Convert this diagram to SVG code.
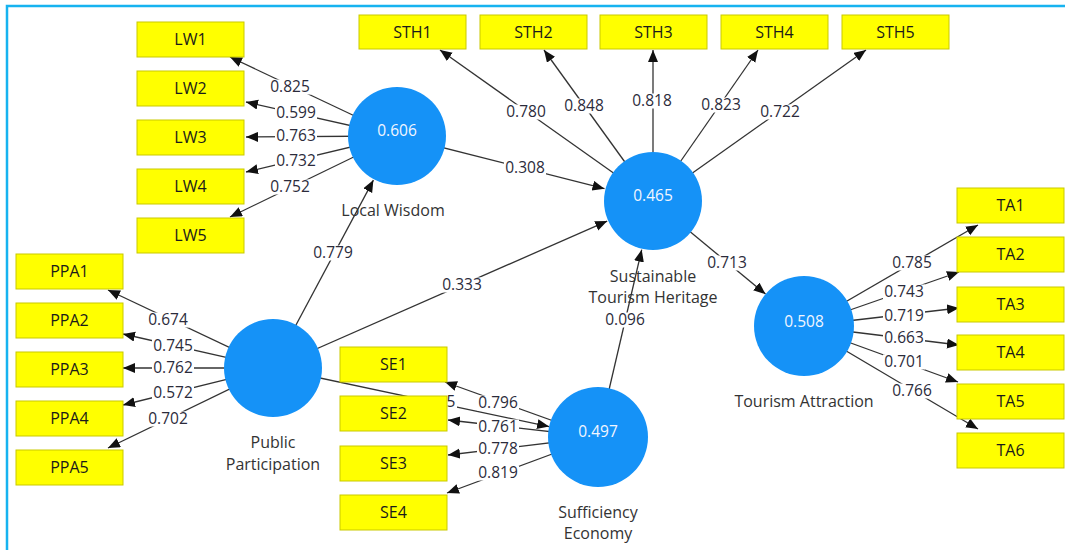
<svg xmlns="http://www.w3.org/2000/svg" width="1065" height="550" viewBox="0 0 1065 550">
<defs>
<style>
.box{fill:#ffff00;stroke:#c9c900;stroke-width:1}
.bt{font-family:"Open Sans","Liberation Sans",sans-serif;font-size:16px;text-anchor:middle;fill:#1a1a1a}
.c{fill:#1592f7}
.cv{font-family:"Open Sans","Liberation Sans",sans-serif;font-size:15.5px;text-anchor:middle;fill:#f2f6ff}
.nl{font-family:"Open Sans","Liberation Sans",sans-serif;font-size:16px;text-anchor:middle;fill:#333}
.ln{stroke:#333;stroke-width:1.3;fill:none;marker-end:url(#ah)}
.bg{fill:#fff}
.lb{font-family:"Open Sans","Liberation Sans",sans-serif;font-size:15.5px;text-anchor:middle;fill:#2b2b3b}
</style>
<marker id="ah" markerUnits="userSpaceOnUse" markerWidth="13" markerHeight="11" refX="12" refY="5" orient="auto">
<path d="M0,0 L12,5 L0,10 z" fill="#111"/>
</marker>
</defs>
<rect width="1065" height="550" fill="#fff"/>
<path d="M7,550 V6 H1065" fill="none" stroke="#17b3f0" stroke-width="2.5"/>

<g id="connectors">
<line class="ln" x1="397" y1="136" x2="230" y2="57"/>
<line class="ln" x1="397" y1="136" x2="246" y2="102"/>
<line class="ln" x1="397" y1="136" x2="246" y2="137"/>
<line class="ln" x1="397" y1="136" x2="246" y2="172"/>
<line class="ln" x1="397" y1="136" x2="230" y2="217"/>
<line class="ln" x1="273" y1="368" x2="108" y2="290"/>
<line class="ln" x1="273" y1="368" x2="123" y2="334"/>
<line class="ln" x1="273" y1="368" x2="123" y2="368"/>
<line class="ln" x1="273" y1="368" x2="123" y2="405"/>
<line class="ln" x1="273" y1="368" x2="108" y2="448"/>
<line class="ln" x1="598" y1="437" x2="445" y2="382"/>
<line class="ln" x1="598" y1="437" x2="448" y2="420"/>
<line class="ln" x1="598" y1="437" x2="448" y2="455"/>
<line class="ln" x1="598" y1="437" x2="447" y2="493"/>
<line class="ln" x1="804" y1="326" x2="978" y2="225"/>
<line class="ln" x1="804" y1="326" x2="959" y2="272"/>
<line class="ln" x1="804" y1="326" x2="959" y2="308"/>
<line class="ln" x1="804" y1="326" x2="959" y2="345"/>
<line class="ln" x1="804" y1="326" x2="958" y2="382"/>
<line class="ln" x1="804" y1="326" x2="978" y2="429"/>
<line class="ln" x1="653" y1="201" x2="440" y2="50"/>
<line class="ln" x1="653" y1="201" x2="544" y2="50"/>
<line class="ln" x1="653" y1="201" x2="653" y2="50"/>
<line class="ln" x1="653" y1="201" x2="758" y2="50"/>
<line class="ln" x1="653" y1="201" x2="866" y2="50"/>
<line class="ln" x1="273" y1="368" x2="373.4" y2="180.1"/>
<line class="ln" x1="273" y1="368" x2="607.2" y2="221.1"/>
<line class="ln" x1="397" y1="136" x2="604.5" y2="188.7"/>
<line class="ln" x1="598" y1="437" x2="641.7" y2="249.7"/>
<line class="ln" x1="653" y1="201" x2="765.5" y2="294.1"/>
<line class="ln" x1="273" y1="368" x2="549.1" y2="426.6"/>
<g>
<rect class="bg" x="269" y="79.5" width="42" height="15"/>
<rect class="bg" x="275" y="105.5" width="42" height="15"/>
<rect class="bg" x="275" y="128.5" width="42" height="15"/>
<rect class="bg" x="275" y="153.5" width="42" height="15"/>
<rect class="bg" x="269" y="179.5" width="42" height="15"/>
<rect class="bg" x="147" y="312.5" width="42" height="15"/>
<rect class="bg" x="152" y="338.5" width="42" height="15"/>
<rect class="bg" x="152" y="360.5" width="42" height="15"/>
<rect class="bg" x="152" y="385.5" width="42" height="15"/>
<rect class="bg" x="147" y="411.5" width="42" height="15"/>
<rect class="bg" x="477" y="395.5" width="42" height="15"/>
<rect class="bg" x="477" y="419.5" width="42" height="15"/>
<rect class="bg" x="477" y="441.5" width="42" height="15"/>
<rect class="bg" x="477" y="465.5" width="42" height="15"/>
<rect class="bg" x="891" y="255.5" width="42" height="15"/>
<rect class="bg" x="883" y="284.5" width="42" height="15"/>
<rect class="bg" x="883" y="308.5" width="42" height="15"/>
<rect class="bg" x="883" y="330.5" width="42" height="15"/>
<rect class="bg" x="883" y="354.5" width="42" height="15"/>
<rect class="bg" x="891" y="383.5" width="42" height="15"/>
<rect class="bg" x="505" y="104.5" width="42" height="15"/>
<rect class="bg" x="563" y="98.5" width="42" height="15"/>
<rect class="bg" x="631" y="93.5" width="42" height="15"/>
<rect class="bg" x="700" y="97.5" width="42" height="15"/>
<rect class="bg" x="759" y="104.5" width="42" height="15"/>
<rect class="bg" x="312" y="245.5" width="42" height="15"/>
<rect class="bg" x="441" y="277.5" width="42" height="15"/>
<rect class="bg" x="504" y="160.5" width="42" height="15"/>
<rect class="bg" x="604" y="312.5" width="42" height="15"/>
<rect class="bg" x="706" y="255.5" width="42" height="15"/>
<rect class="bg" x="446" y="394.5" width="11" height="15"/>
</g>
<text class="lb" x="290" y="92">0.825</text>
<text class="lb" x="296" y="118">0.599</text>
<text class="lb" x="296" y="141">0.763</text>
<text class="lb" x="296" y="166">0.732</text>
<text class="lb" x="290" y="192">0.752</text>
<text class="lb" x="168" y="325">0.674</text>
<text class="lb" x="173" y="351">0.745</text>
<text class="lb" x="173" y="373">0.762</text>
<text class="lb" x="173" y="398">0.572</text>
<text class="lb" x="168" y="424">0.702</text>
<text class="lb" x="498" y="408">0.796</text>
<text class="lb" x="498" y="432">0.761</text>
<text class="lb" x="498" y="454">0.778</text>
<text class="lb" x="498" y="478">0.819</text>
<text class="lb" x="912" y="268">0.785</text>
<text class="lb" x="904" y="297">0.743</text>
<text class="lb" x="904" y="321">0.719</text>
<text class="lb" x="904" y="343">0.663</text>
<text class="lb" x="904" y="367">0.701</text>
<text class="lb" x="912" y="396">0.766</text>
<text class="lb" x="526" y="117">0.780</text>
<text class="lb" x="584" y="111">0.848</text>
<text class="lb" x="652" y="106">0.818</text>
<text class="lb" x="721" y="110">0.823</text>
<text class="lb" x="780" y="117">0.722</text>
<text class="lb" x="333" y="258">0.779</text>
<text class="lb" x="462" y="290">0.333</text>
<text class="lb" x="525" y="173">0.308</text>
<text class="lb" x="625" y="325">0.096</text>
<text class="lb" x="727" y="268">0.713</text>
<text class="lb" x="451" y="407">5</text>
</g>

<g id="LW">
<circle class="c" cx="397" cy="136" r="49"/>
<text class="cv" x="397" y="136">0.606</text>
<text class="nl" x="393" y="216">Local Wisdom</text>
</g>
<g id="STH">
<circle class="c" cx="653" cy="201" r="49"/>
<text class="cv" x="653" y="201">0.465</text>
<text class="nl" x="653" y="282">Sustainable</text>
<text class="nl" x="653" y="303">Tourism Heritage</text>
</g>
<g id="PP">
<circle class="c" cx="273" cy="368" r="49"/>
<text class="nl" x="273" y="448">Public</text>
<text class="nl" x="273" y="470">Participation</text>
</g>
<g id="SE">
<circle class="c" cx="598" cy="437" r="50"/>
<text class="cv" x="598" y="437">0.497</text>
<text class="nl" x="598" y="518">Sufficiency</text>
<text class="nl" x="598" y="539">Economy</text>
</g>
<g id="TA">
<circle class="c" cx="804" cy="326" r="50"/>
<text class="cv" x="804" y="327">0.508</text>
<text class="nl" x="804" y="407">Tourism Attraction</text>
</g>

<g id="LW1"><rect class="box" x="137" y="22" width="107" height="35"/><text class="bt" x="190.5" y="45">LW1</text></g>
<g id="LW2"><rect class="box" x="137" y="71" width="107" height="35"/><text class="bt" x="190.5" y="94">LW2</text></g>
<g id="LW3"><rect class="box" x="137" y="120" width="107" height="35"/><text class="bt" x="190.5" y="143">LW3</text></g>
<g id="LW4"><rect class="box" x="137" y="169" width="107" height="35"/><text class="bt" x="190.5" y="192">LW4</text></g>
<g id="LW5"><rect class="box" x="137" y="218" width="107" height="35"/><text class="bt" x="190.5" y="241">LW5</text></g>

<g id="STH1"><rect class="box" x="359" y="15" width="107" height="34"/><text class="bt" x="412.5" y="37.5">STH1</text></g>
<g id="STH2"><rect class="box" x="480" y="15" width="107" height="34"/><text class="bt" x="533.5" y="37.5">STH2</text></g>
<g id="STH3"><rect class="box" x="600" y="15" width="107" height="34"/><text class="bt" x="653.5" y="37.5">STH3</text></g>
<g id="STH4"><rect class="box" x="721" y="15" width="107" height="34"/><text class="bt" x="774.5" y="37.5">STH4</text></g>
<g id="STH5"><rect class="box" x="842" y="15" width="107" height="34"/><text class="bt" x="895.5" y="37.5">STH5</text></g>

<g id="PPA1"><rect class="box" x="16" y="254" width="107" height="35"/><text class="bt" x="69.5" y="277">PPA1</text></g>
<g id="PPA2"><rect class="box" x="16" y="303" width="107" height="35"/><text class="bt" x="69.5" y="326">PPA2</text></g>
<g id="PPA3"><rect class="box" x="16" y="352" width="107" height="35"/><text class="bt" x="69.5" y="375">PPA3</text></g>
<g id="PPA4"><rect class="box" x="16" y="401" width="107" height="35"/><text class="bt" x="69.5" y="424">PPA4</text></g>
<g id="PPA5"><rect class="box" x="16" y="450" width="107" height="35"/><text class="bt" x="69.5" y="473">PPA5</text></g>

<g id="SE1"><rect class="box" x="340" y="347" width="107" height="35"/><text class="bt" x="393.5" y="370">SE1</text></g>
<g id="SE2"><rect class="box" x="340" y="396" width="107" height="35"/><text class="bt" x="393.5" y="419">SE2</text></g>
<g id="SE3"><rect class="box" x="340" y="446" width="107" height="35"/><text class="bt" x="393.5" y="469">SE3</text></g>
<g id="SE4"><rect class="box" x="340" y="495" width="107" height="35"/><text class="bt" x="393.5" y="518">SE4</text></g>

<g id="TA1"><rect class="box" x="957" y="188" width="107" height="35"/><text class="bt" x="1010.5" y="211">TA1</text></g>
<g id="TA2"><rect class="box" x="957" y="237" width="107" height="35"/><text class="bt" x="1010.5" y="260">TA2</text></g>
<g id="TA3"><rect class="box" x="957" y="287" width="107" height="35"/><text class="bt" x="1010.5" y="310">TA3</text></g>
<g id="TA4"><rect class="box" x="957" y="335" width="107" height="35"/><text class="bt" x="1010.5" y="358">TA4</text></g>
<g id="TA5"><rect class="box" x="957" y="384" width="107" height="35"/><text class="bt" x="1010.5" y="407">TA5</text></g>
<g id="TA6"><rect class="box" x="957" y="433" width="107" height="35"/><text class="bt" x="1010.5" y="456">TA6</text></g>
</svg>
